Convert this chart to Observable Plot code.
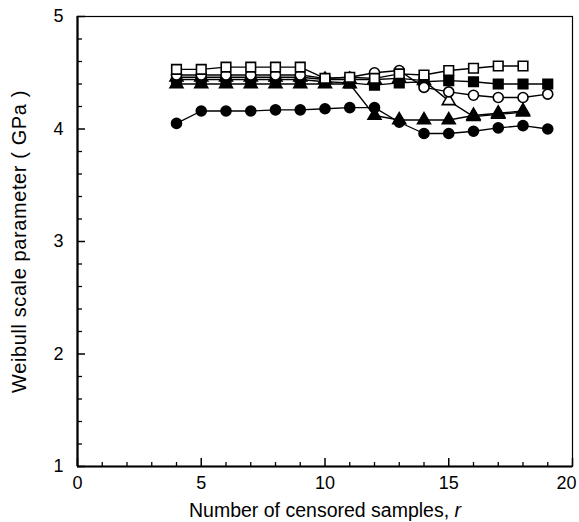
<!DOCTYPE html>
<html><head><meta charset="utf-8">
<script src="https://cdn.jsdelivr.net/npm/d3@7"></script>
<script src="https://cdn.jsdelivr.net/npm/@observablehq/plot@0.6"></script>
<style>body{margin:0;background:#fff} svg{display:block}</style>
</head><body><div id="chart"></div>
<script>
// Series data (r = number of censored samples, value = Weibull scale parameter in GPa)
const rOpenSquare   = [4,5,6,7,8,9,10,11,12,13,14,15,16,17,18];
const vOpenSquare   = [4.53,4.53,4.55,4.55,4.55,4.55,4.45,4.46,4.45,4.49,4.48,4.52,4.54,4.56,4.56];
const rFilledSquare = [4,5,6,7,8,9,10,11,12,13,14,15,16,17,18,19];
const vFilledSquare = [4.44,4.44,4.44,4.44,4.44,4.44,4.42,4.41,4.39,4.41,4.42,4.43,4.42,4.40,4.40,4.40];
const rOpenCircle   = [4,5,6,7,8,9,10,11,12,13,14,15,16,17,18,19];
const vOpenCircle   = [4.48,4.48,4.48,4.48,4.48,4.48,4.45,4.46,4.50,4.52,4.37,4.33,4.30,4.28,4.28,4.31];
const rOpenTriangle = [4,5,6,7,8,9,10,11,12,13,14,15,16,17,18];
const vOpenTriangle = [4.46,4.46,4.46,4.46,4.46,4.46,4.44,4.44,4.44,4.45,4.43,4.25,4.11,4.13,4.15];
const rFilledTriangle = [4,5,6,7,8,9,10,11,12,13,14,15,16,17,18];
const vFilledTriangle = [4.40,4.40,4.40,4.40,4.40,4.40,4.40,4.40,4.12,4.08,4.08,4.08,4.12,4.14,4.16];
const rFilledCircle = [4,5,6,7,8,9,10,11,12,13,14,15,16,17,18,19];
const vFilledCircle = [4.05,4.16,4.16,4.16,4.17,4.17,4.18,4.19,4.19,4.06,3.96,3.96,3.98,4.01,4.03,4.00];

// Axis ticks
const xMajorTicks = [0,5,10,15];
const xLastTick = [20];
const xMinorTicks = [1,2,3,4,6,7,8,9,11,12,13,14,16,17,18,19];
const yMajorTicks = [1,2,3,4,5];
const yMinorTicks = [1.2,1.4,1.6,1.8,2.2,2.4,2.6,2.8,3.2,3.4,3.6,3.8,4.2,4.4,4.6,4.8];

const xTitle = "Number of censored samples, ";
const xTitleVar = "r";
const yTitle = "Weibull scale parameter ( GPa )";

const series = [
  {r: rOpenTriangle,   v: vOpenTriangle,   symbol: "triangle", fill: "white", size: 4.8},
  {r: rFilledTriangle, v: vFilledTriangle, symbol: "triangle", fill: "black", size: 4.8},
  {r: rFilledSquare,   v: vFilledSquare,   symbol: "square",   fill: "black", size: 5.4},
  {r: rOpenCircle,     v: vOpenCircle,     symbol: "circle",   fill: "white", size: 5},
  {r: rOpenSquare,     v: vOpenSquare,     symbol: "square",   fill: "white", size: 5.4},
  {r: rFilledCircle,   v: vFilledCircle,   symbol: "circle",   fill: "black", size: 5}
];
const tables = series.map(s => s.r.map((r, i) => ({r, v: s.v[i]})));

const lineMarks = tables.map(t => Plot.line(t, {x: "r", y: "v", stroke: "black", strokeWidth: 1.3}));
const dotMarks = series.map((s, i) => Plot.dot(tables[i], {
  x: "r", y: "v", symbol: () => s.symbol, r: s.size, fill: s.fill, stroke: "black", strokeWidth: 1.6
}));

const plot = Plot.plot({
  width: 579, height: 522,
  marginLeft: 77, marginRight: 7, marginTop: 16, marginBottom: 56,
  style: {fontFamily: "'Liberation Sans', Arial, sans-serif", fontSize: "18px", background: "white", color: "black"},
  x: {domain: [0, 20]},
  y: {domain: [1, 5]},
  symbol: {type: "identity"},
  marks: [
    Plot.frame({stroke: "black", strokeWidth: 1.2}),
    Plot.ruleY([1], {stroke: "black", strokeWidth: 2.2}),
    Plot.ruleX([0], {stroke: "black", strokeWidth: 2.2}),
    Plot.axisX(xMajorTicks, {tickSize: 0, tickPadding: 10, label: xTitle + xTitleVar, labelAnchor: "center", labelArrow: "none", labelOffset: 50}),
    Plot.axisX(xLastTick, {tickSize: 0, tickPadding: 10, label: null, dx: -6}),
    Plot.axisX(xMajorTicks.concat(xLastTick), {tickSize: -8, text: null, label: null, strokeWidth: 1.5}),
    Plot.axisX(xMinorTicks, {tickSize: -4, text: null, label: null, strokeWidth: 1.3}),
    Plot.axisY(yMajorTicks, {tickSize: 0, tickPadding: 14, tickFormat: d3.format("d"), label: yTitle, labelAnchor: "center", labelArrow: "none", labelOffset: 66}),
    Plot.axisY(yMajorTicks, {tickSize: -8, text: null, label: null, strokeWidth: 1.5}),
    Plot.axisY(yMinorTicks, {tickSize: -5, text: null, label: null, strokeWidth: 1.3}),
    ...lineMarks,
    ...dotMarks
  ]
});
document.getElementById("chart").appendChild(plot);

// italic variable in the x title; title sizes
const xl = d3.select(plot).select('[aria-label="x-axis label"] text');
if (!xl.empty()) {
  xl.text(null).style("font-size", "19.5px");
  xl.append("tspan").text(xTitle);
  xl.append("tspan").attr("font-style", "italic").text(xTitleVar);
}
d3.select(plot).select('[aria-label="y-axis label"] text').style("font-size", "20px").style("letter-spacing", "0.6px");
</script>
</body></html>
